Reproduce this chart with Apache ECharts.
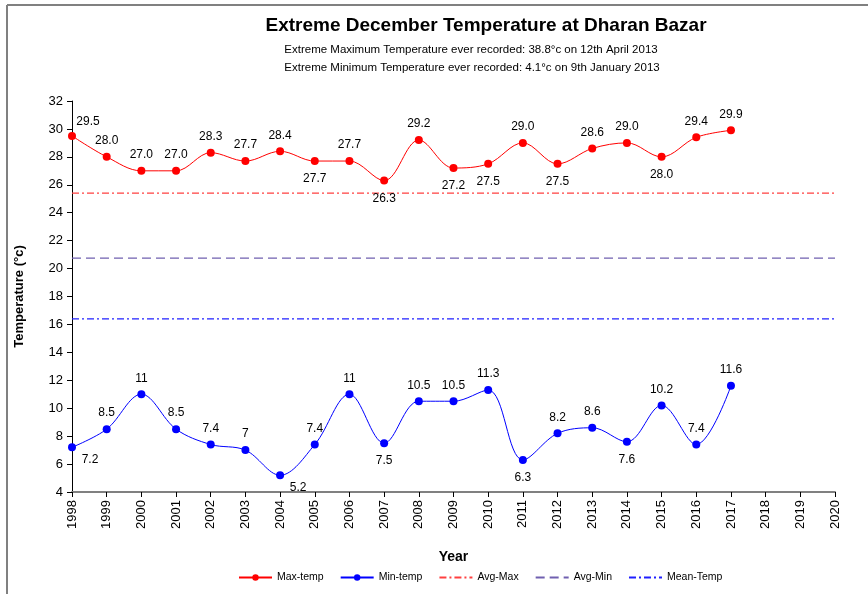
<!DOCTYPE html>
<html>
<head>
<meta charset="utf-8">
<script src="https://cdn.jsdelivr.net/npm/echarts@6/dist/echarts.min.js"></script>
<style>
  html, body { margin: 0; padding: 0; background: #fff; }
  #chart { width: 868px; height: 594px; }
</style>
</head>
<body>
<div id="chart"></div>
<script>
var years = ['1998','1999','2000','2001','2002','2003','2004','2005','2006','2007','2008',
             '2009','2010','2011','2012','2013','2014','2015','2016','2017','2018','2019','2020'];
var maxTemp = [29.5, 28.0, 27.0, 27.0, 28.3, 27.7, 28.4, 27.7, 27.7, 26.3, 29.2,
               27.2, 27.5, 29.0, 27.5, 28.6, 29.0, 28.0, 29.4, 29.9];
var minTemp = [7.2, 8.5, 11, 8.5, 7.4, 7, 5.2, 7.4, 11, 7.5, 10.5,
               10.5, 11.3, 6.3, 8.2, 8.6, 7.6, 10.2, 7.4, 11.6];
// where each data label sits: t = above, b = below, tr = above right, br = below right
var maxLabelPos = ['tr','t','t','t','t','t','t','b','t','b','t','b','b','t','b','t','t','b','t','t'];
var minLabelPos = ['br','t','t','t','t','t','br','t','t','b','t','t','t','b','t','t','b','t','t','t'];
var avgMax = 25.4;
var avgMin = 20.75;
var meanTemp = 16.4;

function labelOpt(p) {
    if (p == 't') return { position: 'top', distance: 6 };
    if (p == 'b') return { position: 'bottom', distance: 8 };
    if (p == 'tr') return { position: 'top', distance: 4, offset: [16, 0] };
    if (p == 'br') return { position: 'bottom', distance: 2, offset: [18, 0] };
    return { position: 'right', distance: 6 };
}

function buildData(vals, pos, fmt) {
    return vals.map(function (v, i) {
        var l = labelOpt(pos[i]);
        return {
            value: v,
            label: {
                show: true, position: l.position, distance: l.distance, offset: l.offset || [0, 0],
                formatter: function () { return fmt(v); }
            }
        };
    });
}

var labelText = { color: '#000', fontSize: 12, fontFamily: 'Liberation Sans, Arial, sans-serif' };

// flat reference line across every year
function refLine(name, val, color, dash) {
    return {
        name: name,
        type: 'line',
        data: years.map(function () { return val; }),
        symbol: 'none',
        silent: true,
        itemStyle: { color: color },
        lineStyle: { color: color, width: 1.2, type: dash }
    };
}

var chart = echarts.init(document.getElementById('chart'));
var option = {
    backgroundColor: '#fff',
    animation: false,
    textStyle: { fontFamily: 'Liberation Sans, Arial, sans-serif' },
    title: [{
        text: 'Extreme December Temperature at Dharan Bazar',
        left: 481, top: 11, textAlign: 'center',
        textStyle: { fontSize: 19, fontWeight: 'bold', color: '#000' }
    }, {
        text: 'Extreme Maximum Temperature ever recorded: 38.8°c on 12th April 2013',
        left: 466, top: 39, textAlign: 'center',
        textStyle: { fontSize: 11.5, fontWeight: 'normal', color: '#000' }
    }, {
        text: 'Extreme Minimum Temperature ever recorded: 4.1°c on 9th January 2013',
        left: 467, top: 57, textAlign: 'center',
        textStyle: { fontSize: 11.5, fontWeight: 'normal', color: '#000' }
    }],
    legend: {
        bottom: 6,
        left: 233,
        itemGap: 16,
        itemWidth: 33,
        itemHeight: 8,
        textStyle: { fontSize: 10.5, color: '#000' },
        data: [
            'Max-temp', 'Min-temp',
            { name: 'Avg-Max', itemStyle: { opacity: 0 } },
            { name: 'Avg-Min', itemStyle: { opacity: 0 } },
            { name: 'Mean-Temp', itemStyle: { opacity: 0 } }
        ]
    },
    grid: { left: 72, right: 33, top: 101, bottom: 102 },
    xAxis: {
        type: 'category',
        data: years,
        boundaryGap: false,
        name: 'Year',
        nameLocation: 'middle',
        nameGap: 58,
        nameTextStyle: { fontSize: 14, fontWeight: 'bold', color: '#000' },
        axisLine: { lineStyle: { color: '#808080', width: 2 } },
        axisTick: { alignWithLabel: true, length: 5, lineStyle: { color: '#000', width: 1 } },
        axisLabel: { rotate: 90, fontSize: 13, color: '#000', margin: 8, interval: 0 },
        splitLine: { show: false }
    },
    yAxis: {
        type: 'value',
        min: 4, max: 32, interval: 2,
        name: 'Temperature (°c)',
        nameLocation: 'middle',
        nameGap: 46,
        nameTextStyle: { fontSize: 13, fontWeight: 'bold', color: '#000' },
        axisLine: { show: true, lineStyle: { color: '#000', width: 1 } },
        axisTick: { show: true, length: 5, lineStyle: { color: '#000' } },
        axisLabel: { fontSize: 13, color: '#000', margin: 9 },
        splitLine: { show: false }
    },
    series: [
        refLine('Avg-Max', avgMax, '#ff4040', [7, 3, 2, 3]),
        refLine('Avg-Min', avgMin, '#7060b0', [9, 5]),
        refLine('Mean-Temp', meanTemp, '#2020ff', [7, 3, 2, 3]),
    {
        name: 'Max-temp',
        type: 'line',
        smooth: 0.35,
        symbol: 'circle',
        symbolSize: 8,
        itemStyle: { color: '#ff0000' },
        lineStyle: { color: '#ff0000', width: 1 },
        label: labelText,
        data: buildData(maxTemp, maxLabelPos, function (v) { return v.toFixed(1); })
    }, {
        name: 'Min-temp',
        type: 'line',
        smooth: 0.35,
        symbol: 'circle',
        symbolSize: 8,
        itemStyle: { color: '#0000ff' },
        lineStyle: { color: '#0000ff', width: 1 },
        label: labelText,
        data: buildData(minTemp, minLabelPos, function (v) { return String(v); })
    }],
    graphic: [{
        type: 'line', silent: true,
        shape: { x1: 7, y1: 5, x2: 868, y2: 5 },
        style: { stroke: '#808080', lineWidth: 2 }
    }, {
        type: 'line', silent: true,
        shape: { x1: 7, y1: 5, x2: 7, y2: 594 },
        style: { stroke: '#808080', lineWidth: 2 }
    }]
};
chart.setOption(option);
</script>
</body>
</html>
